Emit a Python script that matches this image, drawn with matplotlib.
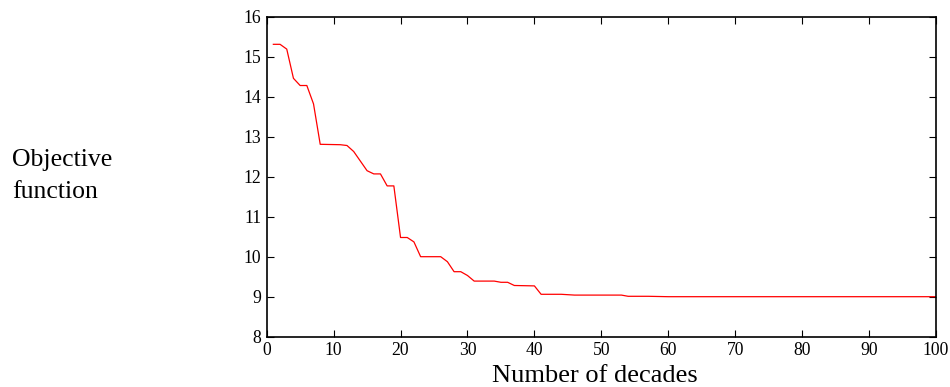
import matplotlib
matplotlib.use("Agg")
import matplotlib.pyplot as plt

# breakpoints of the objective-function curve
decades = [1, 2, 3, 4, 5, 6, 7, 8, 11, 12, 13, 15, 16, 17, 18, 19, 20, 21,
           22, 23, 26, 27, 28, 29, 30, 31, 34, 35, 36, 37, 40, 41, 44, 46,
           53, 54, 57, 60, 100]
objective = [15.31, 15.31, 15.19, 14.46, 14.28, 14.28, 13.82, 12.81, 12.80,
             12.78, 12.63, 12.15, 12.07, 12.07, 11.77, 11.77, 10.48, 10.48,
             10.37, 10.0, 10.0, 9.875, 9.625, 9.625, 9.53, 9.39, 9.39, 9.36,
             9.36, 9.28, 9.27, 9.06, 9.06, 9.04, 9.04, 9.01, 9.01, 9.0, 9.0]

x_ticks = list(range(0, 101, 10))
y_ticks = list(range(8, 17))

plt.rcParams['font.family'] = ['Liberation Serif', 'DejaVu Serif']

fig = plt.figure(figsize=(9.5, 3.87), dpi=100)
ax = fig.add_axes([0.2807, 0.13, 0.7046, 0.8268])

ax.plot(decades, objective, color='red', linewidth=0.9)

ax.set_xlim(0, 100)
ax.set_ylim(8, 16)
ax.set_xticks(x_ticks)
ax.set_yticks(y_ticks)
ax.tick_params(direction='in', length=5, width=0.8, labelsize=12.7,
               top=True, right=True, pad=4)
for spine in ax.spines.values():
    spine.set_linewidth(1.2)

fig.text(595 / 950, 1 - 382 / 387, "Number of decades", fontsize=19,
         ha='center', va='baseline')
fig.text(12 / 950, 1 - 198 / 387, "Objective\nfunction", fontsize=18.5,
         ha='left', va='baseline', multialignment='left', linespacing=1.6)

fig.savefig("out.png", dpi=100)
